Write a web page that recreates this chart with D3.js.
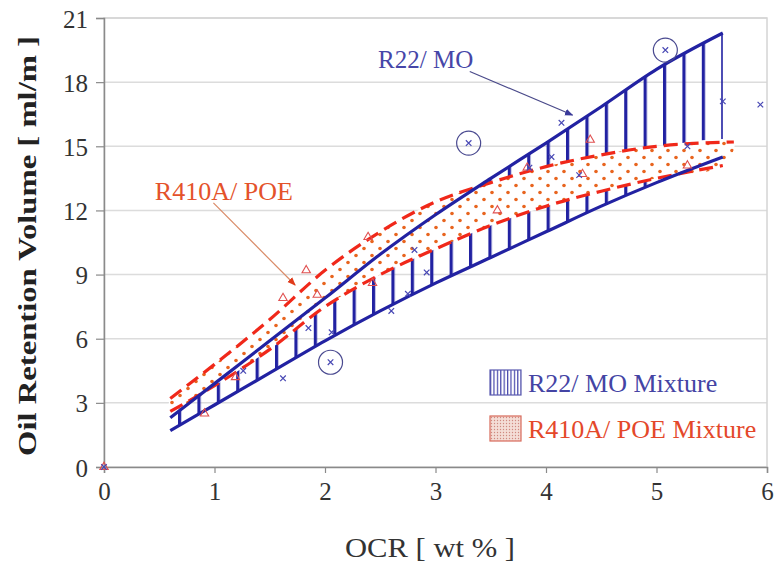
<!DOCTYPE html>
<html>
<head>
<meta charset="utf-8">
<script src="https://cdn.jsdelivr.net/npm/d3@7"></script>
<style>
  body { margin: 0; background: #fff; }
</style>
</head>
<body>
<svg id="chart" width="777" height="567"></svg>
<script>
// band edges [OCR wt%, volume ml/m]
var r22Upper = [[0.6,2.3],[1.0,3.9],[1.5,5.9],[2.0,7.9],[2.5,9.95],[3.0,11.8],[3.5,13.5],[4.0,15.15],[4.5,16.85],[5.0,18.6],[5.6,20.3]];
var r22Lower = [[0.6,1.7],[1.0,2.9],[1.5,4.4],[2.0,5.9],[2.5,7.3],[3.0,8.6],[3.5,9.8],[4.0,11.0],[4.5,12.2],[5.0,13.3],[5.6,14.5]];
var poeUpper = [[0.6,3.2],[1.0,4.8],[1.5,6.9],[2.0,9.2],[2.5,11.0],[3.0,12.4],[3.5,13.3],[4.0,14.05],[4.5,14.6],[5.0,15.0],[5.7,15.2]];
var poeLower = [[0.6,2.6],[1.0,3.8],[1.5,5.5],[2.0,7.5],[2.5,9.0],[3.0,10.2],[3.5,11.3],[4.0,12.2],[4.5,12.9],[5.0,13.5],[5.6,14.1]];

// measured points
var r22Points = [[0,0],[1.26,4.5],[1.62,4.15],[1.85,6.5],[2.06,6.3],[2.6,7.3],[2.75,8.1],[2.81,10.15],[2.92,9.1],[3.85,14.0],[4.05,14.5],[4.14,16.1],[4.3,13.65],[5.28,15.0],[5.6,17.1],[5.94,16.95]];
var r22Circled = [[2.05,4.9],[3.3,15.15],[5.08,19.5]];
var poePoints = [[0,0],[0.91,2.5],[1.19,4.2],[1.62,7.9],[1.83,9.2],[1.93,8.05],[2.39,10.75],[2.43,8.6],[3.56,12.0],[3.83,14.0],[4.33,13.7],[4.4,15.3],[5.28,14.1]];

var xTicks = [0,1,2,3,4,5,6];
var yTicks = [0,3,6,9,12,15,18,21];
var legendLabels = ["R22/ MO Mixture", "R410A/ POE Mixture"];

var BLUE = "#2222a2", RED = "#f0281a", ORANGE = "#e8641e";
var SERIF = "'Liberation Serif'";

var svg = d3.select("#chart");
var x = d3.scaleLinear().domain([0, 6]).range([104, 767]);
var y = d3.scaleLinear().domain([0, 21]).range([467, 18]);

var defs = svg.append("defs");
// vertical hatch for R22 band
var hatch = defs.append("pattern")
  .attr("id", "hatch")
  .attr("patternUnits", "userSpaceOnUse")
  .attr("width", 19.4).attr("height", 10)
  .attr("x", x(5.6) - 1.6);
hatch.append("rect").attr("width", 3.2).attr("height", 10).attr("fill", BLUE);

var dots = defs.append("pattern")
  .attr("id", "dots")
  .attr("patternUnits", "userSpaceOnUse")
  .attr("width", 16).attr("height", 14);
dots.append("rect").attr("width", 16).attr("height", 14).attr("fill", "#fff");
dots.append("circle").attr("cx", 4).attr("cy", 3.5).attr("r", 1.8).attr("fill", ORANGE);
dots.append("circle").attr("cx", 12).attr("cy", 10.5).attr("r", 1.8).attr("fill", ORANGE);

var hatchSmall = defs.append("pattern")
  .attr("id", "hatchSmall")
  .attr("patternUnits", "userSpaceOnUse")
  .attr("width", 3.4).attr("height", 4);
hatchSmall.append("rect").attr("width", 1.2).attr("height", 4).attr("fill", "#4444aa");

var dotsSmall = defs.append("pattern")
  .attr("id", "dotsSmall")
  .attr("patternUnits", "userSpaceOnUse")
  .attr("width", 3).attr("height", 3);
dotsSmall.append("rect").attr("width", 3).attr("height", 3).attr("fill", "#f4ddd6");
dotsSmall.append("circle").attr("cx", 1.5).attr("cy", 1.5).attr("r", 0.7).attr("fill", "#d08a80");

var arrowBlue = defs.append("marker")
  .attr("id", "arrowBlue").attr("viewBox", "0 0 10 10")
  .attr("refX", 9).attr("refY", 5).attr("markerWidth", 7).attr("markerHeight", 7)
  .attr("orient", "auto");
arrowBlue.append("path").attr("d", "M0,1L10,5L0,9z").attr("fill", "#3a3a9a");
var arrowRed = defs.append("marker")
  .attr("id", "arrowRed").attr("viewBox", "0 0 10 10")
  .attr("refX", 9).attr("refY", 5).attr("markerWidth", 7).attr("markerHeight", 7)
  .attr("orient", "auto");
arrowRed.append("path").attr("d", "M0,1L10,5L0,9z").attr("fill", "#e03a1a");

// grid + frame
svg.append("g").selectAll("line")
  .data(yTicks.filter(function(d) { return d > 0; }))
  .enter().append("line")
  .attr("x1", x(0)).attr("x2", x(6))
  .attr("y1", function(d) { return y(d); })
  .attr("y2", function(d) { return y(d); })
  .attr("stroke", "#dcdcdc").attr("stroke-width", 1.5);
svg.append("rect")
  .attr("x", x(0)).attr("y", y(21))
  .attr("width", x(6) - x(0)).attr("height", y(0) - y(21))
  .attr("fill", "none").attr("stroke", "#d4d4d4").attr("stroke-width", 1.5);

// axes
var xAxis = svg.append("g")
  .attr("transform", "translate(0," + y(0) + ")")
  .call(d3.axisBottom(x).tickValues(xTicks).tickSize(6).tickPadding(9).tickFormat(d3.format("d")));
var yAxis = svg.append("g")
  .attr("transform", "translate(" + x(0) + ",0)")
  .call(d3.axisLeft(y).tickValues(yTicks).tickSize(8).tickPadding(8).tickFormat(d3.format("d")));
[xAxis, yAxis].forEach(function(a) {
  a.attr("font-family", null);
  a.select(".domain").attr("stroke", "#8a8a8a").attr("stroke-width", 1.5);
  a.selectAll(".tick line").attr("stroke", "#8a8a8a").attr("stroke-width", 1.2);
  a.selectAll("text")
    .style("font-family", SERIF)
    .attr("font-size", 25).attr("fill", "#333");
});
yAxis.selectAll("text").attr("dy", "0.36em");

svg.append("text")
  .attr("x", 430).attr("y", 557)
  .attr("text-anchor", "middle")
  .style("font-family", SERIF)
  .attr("font-size", 28).attr("fill", "#333")
  .attr("textLength", 170).attr("lengthAdjust", "spacingAndGlyphs")
  .text("OCR [ wt % ]");
svg.append("text")
  .attr("transform", "translate(36,246) rotate(-90)")
  .attr("text-anchor", "middle")
  .style("font-family", SERIF)
  .attr("font-size", 26).attr("font-weight", "bold").attr("fill", "#222")
  .attr("textLength", 420).attr("lengthAdjust", "spacingAndGlyphs")
  .text("Oil Retention Volume [ ml/m ]");

// bands
var curve = d3.curveMonotoneX;
function bandArea(upper, lower) {
  var pts = upper.map(function(d, i) {
    return { x: d[0], hi: d[1], lo: lower[Math.min(i, lower.length - 1)][1] };
  });
  return d3.area().curve(curve)
    .x(function(d) { return x(d.x); })
    .y0(function(d) { return y(d.lo); })
    .y1(function(d) { return y(d.hi); })(pts);
}
var line = d3.line().curve(curve)
  .x(function(d) { return x(d[0]); })
  .y(function(d) { return y(d[1]); });

svg.append("path").attr("d", bandArea(r22Upper, r22Lower)).attr("fill", "url(#hatch)");

// red band outline as a closed polygon from both edges
var poeShape = poeUpper.concat(poeLower.slice().reverse());
svg.append("path")
  .attr("d", d3.line().curve(d3.curveCatmullRomClosed)
    .x(function(d) { return x(d[0]); })
    .y(function(d) { return y(d[1]); })(poeShape))
  .attr("fill", "url(#dots)");
[poeUpper, poeLower].forEach(function(s) {
  svg.append("path").attr("d", line(s))
    .attr("fill", "none").attr("stroke", RED)
    .attr("stroke-width", 3.2).attr("stroke-dasharray", "14 7");
});
[r22Upper, r22Lower].forEach(function(s) {
  svg.append("path").attr("d", line(s))
    .attr("fill", "none").attr("stroke", BLUE).attr("stroke-width", 3.2);
});

// markers
var times = d3.symbol().type(d3.symbolTimes).size(22);
var tri = d3.symbol().type(d3.symbolTriangle2).size(50);
svg.append("g").selectAll("path")
  .data(poePoints).enter().append("path")
  .attr("d", tri)
  .attr("transform", function(d) { return "translate(" + x(d[0]) + "," + y(d[1]) + ")"; })
  .attr("fill", "none").attr("stroke", "#e05050").attr("stroke-width", 1.1);
svg.append("g").selectAll("path")
  .data(r22Points).enter().append("path")
  .attr("d", times)
  .attr("transform", function(d) { return "translate(" + x(d[0]) + "," + y(d[1]) + ")"; })
  .attr("fill", "none").attr("stroke", "#4848b4").attr("stroke-width", 1.2);
var circ = svg.append("g").selectAll("g")
  .data(r22Circled).enter().append("g")
  .attr("transform", function(d) { return "translate(" + x(d[0]) + "," + y(d[1]) + ")"; });
circ.append("circle").attr("r", 12).attr("fill", "none").attr("stroke", "#4a4a90").attr("stroke-width", 1.2);
circ.append("path").attr("d", times).attr("fill", "none").attr("stroke", "#4848b4").attr("stroke-width", 1.2);

// annotations
svg.append("text")
  .attr("x", x(2.48)).attr("y", y(18.66))
  .style("font-family", SERIF)
  .attr("font-size", 25).attr("fill", "#4646a8")
  .text("R22/ MO");
svg.append("line")
  .attr("x1", x(3.31)).attr("y1", y(18.5))
  .attr("x2", x(4.24)).attr("y2", y(16.46))
  .attr("stroke", "#4a4a8a").attr("stroke-width", 1.2)
  .attr("marker-end", "url(#arrowBlue)");
svg.append("text")
  .attr("x", x(0.46)).attr("y", y(12.49))
  .style("font-family", SERIF)
  .attr("font-size", 26).attr("fill", "#e4522a")
  .text("R410A/ POE");
svg.append("line")
  .attr("x1", x(0.99)).attr("y1", y(12.35))
  .attr("x2", x(1.73)).attr("y2", y(8.51))
  .attr("stroke", "#d98a66").attr("stroke-width", 1.2)
  .attr("marker-end", "url(#arrowRed)");

// legend
var legend = svg.append("g").attr("transform", "translate(490,370)");
var items = legend.selectAll("g")
  .data(legendLabels).enter().append("g")
  .attr("transform", function(d, i) { return "translate(0," + i * 46 + ")"; });
items.append("rect")
  .attr("width", 31).attr("height", 25)
  .attr("fill", function(d, i) { return i === 0 ? "url(#hatchSmall)" : "url(#dotsSmall)"; })
  .attr("stroke", function(d, i) { return i === 0 ? "#5a5ab0" : "#d86a5a"; })
  .attr("stroke-width", 1.2);
items.append("text")
  .attr("x", 38).attr("y", 22)
  .style("font-family", SERIF)
  .attr("font-size", 26)
  .attr("fill", function(d, i) { return i === 0 ? "#4444a4" : "#e4482a"; })
  .text(function(d) { return d; });
</script>
</body>
</html>
